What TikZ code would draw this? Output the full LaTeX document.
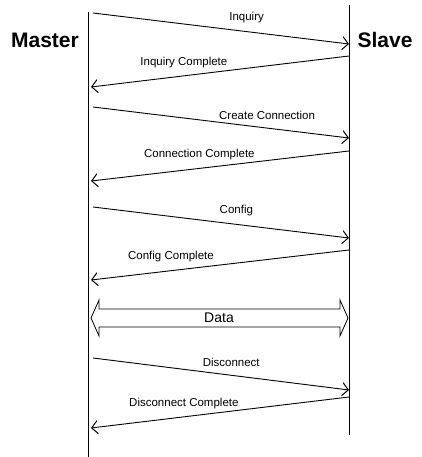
\documentclass[tikz,border=0pt]{standalone}
\usepackage{fontspec}
\setmainfont{Liberation Sans}
\usetikzlibrary{arrows.meta}

\begin{document}
\begin{tikzpicture}[x=1pt,y=-1pt,line width=0.9pt,
  msg/.style={-{Straight Barb[length=6pt,width=13pt,line width=1pt]}},
  lbl/.style={font=\fontsize{11.5}{12}\selectfont,inner sep=2pt,anchor=south,yshift=6pt},
  party/.style={font=\fontsize{21}{24}\selectfont\bfseries}]
\useasboundingbox (0,0) rectangle (422,457);
\node[party] (master) at (45,40) {Master};
\node[party] (slave) at (385,40) {Slave};
\coordinate (mtop) at (88,12);
\coordinate (mbot) at (88,457);
\coordinate (stop) at (349,5);
\coordinate (sbot) at (349,435);
\draw (mtop) -- (mbot);
\draw (stop) -- (sbot);
% requests, master to slave
\foreach \a/\b/\p/\txt [count=\i] in {13/44/.60/Inquiry,107/138/.68/Create Connection,207/238/.56/Config,358/390/.54/Disconnect} {
  \coordinate (req\i) at (93,\a);
  \coordinate (ack\i) at (349,\b);
  \draw[msg] (req\i) -- node[lbl,pos=\p] {\txt} (ack\i);
}
% answers, slave to master
\foreach \a/\b/\p/\txt [count=\i] in {56/87/.64/Inquiry Complete,151/181/.58/Connection Complete,250/280/.69/Config Complete,397/428/.64/Disconnect Complete} {
  \coordinate (out\i) at (349,\a);
  \coordinate (in\i) at (91,\b);
  \draw[msg] (out\i) -- node[lbl,pos=\p] {\txt} (in\i);
}
% data exchange
\coordinate (dl) at (91,318);
\coordinate (dr) at (348,318);
\draw[line width=0.8pt] (dl) -- ++(8,-18) -- ++(0,9) -- ++(241,0) -- ++(0,-9) -- (dr)
  -- ++(-8,18) -- ++(0,-9) -- ++(-241,0) -- ++(0,9) -- cycle;
\node[font=\fontsize{14}{16}\selectfont] (data) at (219,318) {Data};
\end{tikzpicture}
\end{document}
